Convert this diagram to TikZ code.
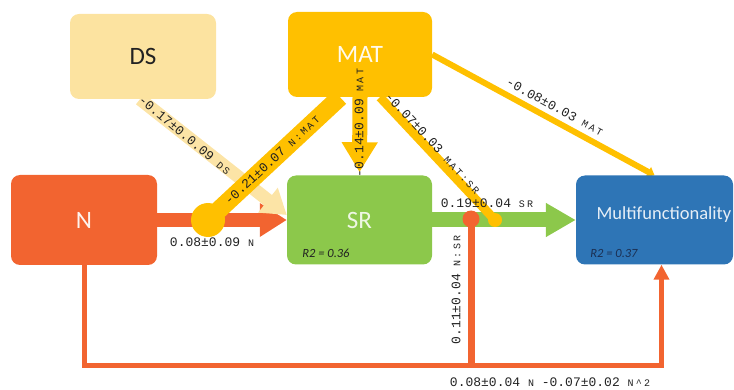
\documentclass[tikz,border=0pt]{standalone}
\usepackage{fontspec}
\setmainfont{Carlito}
\newfontfamily\lblfont{Liberation Mono}
\newfontfamily\lblsmall[LetterSpace=22]{Liberation Mono}
\usetikzlibrary{arrows.meta,calc}
\pgfdeclarelayer{bg}
\pgfsetlayers{bg,main}
\definecolor{dsfill}{HTML}{FCE3A0}
\definecolor{matc}{HTML}{FFC000}
\definecolor{nc}{HTML}{F26430}
\definecolor{src}{HTML}{8CC84B}
\definecolor{mfc}{HTML}{2E75B6}
\definecolor{dsarrow}{HTML}{FCE4A6}
\definecolor{txt}{HTML}{222222}
\definecolor{navy}{HTML}{1B2F52}
\newcommand\cnum[1]{{\fontsize{13}{13}\selectfont\lblfont #1}}
\newcommand\cvar[1]{{\fontsize{10}{10}\selectfont\lblsmall #1}}
\tikzset{
  box/.style={rounded corners=9pt, inner sep=0pt, font=\fontsize{25}{25}\selectfont},
  coef/.style={inner sep=0pt, text=txt},
  rtwo/.style={inner sep=0pt, font=\fontsize{12.5}{12.5}\selectfont\itshape},
  dot/.style={circle, inner sep=0pt}
}
\begin{document}
\begin{tikzpicture}[x=1pt,y=-1pt]
\useasboundingbox (0,0) rectangle (734,390);
% boxes
\node[box, fill=dsfill, text=txt, minimum width=146pt, minimum height=85pt] (DS) at (143,56.5) {DS};
\node[box, fill=matc, text=white!92!matc, minimum width=144pt, minimum height=85pt] (MAT) at (360,54.5) {MAT};
\node[box, fill=nc, text=white!92!nc, minimum width=146pt, minimum height=90pt] (N) at (84,220) {N};
\node[box, fill=src, text=white!85!src, minimum width=145pt, minimum height=89pt] (SR) at (359.5,220) {SR};
\node[box, fill=mfc, minimum width=157pt, minimum height=89pt] (MF) at (654.5,220) {};
\node[inner sep=0pt, text=white!88!mfc, font=\fontsize{18.5}{18.5}\selectfont] (MFlabel) at (664,215) {Multifunctionality};
\node[rtwo, text=txt] (r2sr) at (326,253) {R2 = 0.36};
\node[rtwo, text=navy] (r2mf) at (614,253) {R2 = 0.37};
% interaction dots
\node[dot, fill=matc, minimum size=34pt] (nmat) at (208,220) {};
\node[dot, fill=nc, minimum size=17pt] (nsr) at (471,219) {};
\node[dot, fill=matc, minimum size=14pt] (matsr) at (495,220) {};
\coordinate (low) at (0,365);
% connectors
\begin{pgfonlayer}{bg}
\draw[line width=14pt, nc, -{Triangle[length=27pt,width=32pt]}] (N.east) -- (SR.west);
\draw[line width=13pt, dsarrow, -{Triangle[length=24pt,width=30pt]}] ([xshift=-3pt]DS.south) -- ([yshift=5pt]SR.west);
\draw[line width=18pt, matc] (nmat.center) -- ([xshift=-20pt]MAT.south);
\draw[line width=15pt, matc, -{Triangle[length=30pt,width=34pt]}] (MAT.south) -- ([yshift=3pt]SR.north);
\draw[line width=15pt, src, -{Triangle[length=30pt,width=32pt]}] (SR.east) -- (MF.west);
\draw[line width=9pt, matc] ([xshift=20pt]MAT.south) -- (matsr.center);
\draw[line width=6pt, matc, -{Triangle[length=7pt,width=11pt]}] (MAT.east) -- (MF.north);
\draw[line width=7pt, nc] (nsr.center) -- (nsr.center |- low);
\draw[line width=5pt, nc, -{Triangle[length=15pt,width=15pt]}] (N.south) -- (N.south |- low) -| ([xshift=7pt]MF.south);
\end{pgfonlayer}
% labels
\node[coef, rotate=-40] (lds) at (185,135) {\cnum{-0.17±0.0.09 }\cvar{DS}};
\node[coef, rotate=43] (lnmat) at (272,160) {\cnum{-0.21±0.07 }\cvar{N:MAT}};
\node[coef, rotate=90] (lmat) at (359,123) {\cnum{-0.14±0.09 }\cvar{MAT}};
\node[coef, rotate=-47] (lmatsr) at (433,143) {\cnum{-0.07±0.03 }\cvar{MAT:SR}};
\node[coef, rotate=-28.5] (lmatmf) at (555,107) {\cnum{-0.08±0.03 }\cvar{MAT}};
\node[coef] (lsr) at (487,203) {\cnum{0.19±0.04 }\cvar{SR}};
\node[coef, rotate=90] (lnsr) at (456,290) {\cnum{0.11±0.04 }\cvar{N:SR}};
\node[coef] (ln) at (212,242) {\cnum{0.08±0.09 }\cvar{N}};
\node[coef] (lnn) at (550,382) {\cnum{0.08±0.04 }\cvar{N}\cnum{ -0.07±0.02 }\cvar{N\textasciicircum 2}};
\end{tikzpicture}
\end{document}
